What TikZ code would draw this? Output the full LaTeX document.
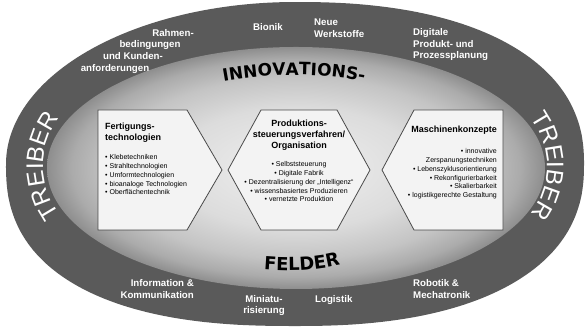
\documentclass[tikz,border=0pt]{standalone}
\usepackage{fontspec}
\setmainfont{Liberation Sans}
\newfontfamily\dvfont{DejaVu Sans}
\usetikzlibrary{decorations.text}
\definecolor{bandc}{HTML}{5A5A5A}
\definecolor{boxline}{HTML}{4A4A4A}
\definecolor{boxfill}{HTML}{F3F3F3}
\definecolor{cz}{HTML}{F0F0F0}
\definecolor{ca}{HTML}{DCDCDC}
\definecolor{cb}{HTML}{C4C4C4}
\definecolor{cc}{HTML}{ABABAB}
\definecolor{cd}{HTML}{8E8E8E}
\pgfdeclareradialshading{innershade}{\pgfpointorigin}{color(0bp)=(cz); color(12.5bp)=(ca); color(18.75bp)=(cb); color(22.5bp)=(cc); color(25bp)=(cd); color(50bp)=(cd)}
\newcommand\treibfont{\fontsize{24}{24}\selectfont}
\newcommand\feldfont{\dvfont\bfseries\fontsize{17}{17}\selectfont}
\newcommand\feldfontb{\dvfont\bfseries\fontsize{18}{18}\selectfont}
\tikzset{
  declare function={
    sx(\t,\e)=295+289*sign(cos(\t))*pow(abs(cos(\t)),\e);
    sy(\t,\e)=164+162*sign(sin(\t))*pow(abs(sin(\t)),\e);
  },
  boxsh/.style={draw=boxline, line width=0.8pt, fill=boxfill, line join=miter},
  lbl/.style={text=white, font=\fontsize{9.7}{11.4}\selectfont\bfseries, inner sep=0pt},
  head/.style={font=\fontsize{9}{10.8}\selectfont\bfseries, inner sep=0pt},
  items/.style={font=\fontsize{7}{8.7}\selectfont, inner sep=0pt},
}
\begin{document}
\begin{tikzpicture}[x=1pt,y=1pt]
\useasboundingbox (0,0) rectangle (585,328);
% outer band (slightly fuller than an ellipse)
\fill[bandc] plot[domain=0.5:89.5, samples=60] ({sx(\x,0.87)},{sy(\x,0.87)})
  -- plot[domain=90.5:179.5, samples=60] ({sx(\x,1.0)},{sy(\x,1.0)})
  -- plot[domain=180.5:269.5, samples=60] ({sx(\x,0.82)},{sy(\x,0.82)})
  -- plot[domain=270.5:359.5, samples=60] ({sx(\x,0.85)},{sy(\x,0.85)}) -- cycle;
% inner field
\shade[shading=innershade] (296,160) ellipse[x radius=249pt, y radius=121pt];
% boxes
\draw[boxsh] (98,218) -- (187,218) -- (222,158) -- (187,98) -- (98,98) -- cycle;
\draw[boxsh] (261,218) -- (337,218) -- (370,158) -- (337,98) -- (261,98) -- (228,158) -- cycle;
\draw[boxsh] (414,218) -- (503,218) -- (503,98) -- (414,98) -- (382,158) -- cycle;
% box texts (base anchor = baseline of last line)
\node[head, align=left, anchor=base west] (lhead) at (105,187.2) {Fertigungs-\\technologien};
\node[items, align=left, anchor=base west] (litems) at (105,133.2) {• Klebetechniken\\• Strahltechnologien\\• Umformtechnologien\\• bioanaloge Technologien\\• Oberflächentechnik};
\node[head, align=center, anchor=base] (mhead) at (299,179.4) {Produktions-\\steuerungsverfahren/\\Organisation};
\node[items, align=center, anchor=base] (mitems) at (299,126.2) {• Selbststeuerung\\• Digitale Fabrik\\• Dezentralisierung der „Intelligenz“\\• wissensbasiertes Produzieren\\• vernetzte Produktion};
\node[head, anchor=base east] (rhead) at (497,195) {Maschinenkonzepte};
\node[items, align=right, anchor=base east] (ritems) at (497,130.5) {• innovative\\Zerspanungstechniken\\• Lebenszyklusorientierung\\• Rekonfigurierbarkeit\\• Skalierbarkeit\\• logistikgerechte Gestaltung};
% band labels
\node[lbl, anchor=base] (r1) at (173,291) {Rahmen-};
\node[lbl, anchor=base] (r2) at (150,280) {bedingungen};
\node[lbl, anchor=base] (r3) at (133,268) {und Kunden-};
\node[lbl, anchor=base] (r4) at (115,256) {anforderungen};
\node[lbl, anchor=base] (bion) at (268,297) {Bionik};
\node[lbl, align=left, anchor=base west] (neue) at (314,290.6) {Neue\\Werkstoffe};
\node[lbl, align=left, anchor=base west] (digi) at (413,269.2) {Digitale\\Produkt- und\\Prozessplanung};
\node[lbl, align=right, anchor=base east] (info) at (194,29.6) {Information \&\\Kommunikation};
\node[lbl, align=center, anchor=base] (mini) at (264,14) {Miniatu-\\risierung};
\node[lbl, anchor=base west] (logi) at (315,25) {Logistik};
\node[lbl, align=left, anchor=base west] (robo) at (413,29.6) {Robotik \&\\Mechatronik};
% curved titles
\path[decorate, decoration={text along path, text={|\feldfont|INNOVATIONS-}, text align=center}]
  (294,-138) ++(102:391pt) arc[start angle=102, end angle=78, radius=391pt];
\path[decorate, decoration={text along path, text={|\feldfontb|FELDER}, text align=center}]
  (256,59) .. controls (285,56) and (318,56) .. (348,65);
\path[decorate, decoration={text along path, text={|\treibfont|TREIBER}, text align=center, text color=white}]
  (295,162) ++(215:252pt and 137pt) arc[start angle=215, end angle=145, x radius=252pt, y radius=137pt];
\path[decorate, decoration={text along path, text={|\treibfont|TREIBER}, text align=center, text color=white}]
  (295,162) ++(35:252pt and 137pt) arc[start angle=35, end angle=-35, x radius=252pt, y radius=137pt];
\end{tikzpicture}
\end{document}
